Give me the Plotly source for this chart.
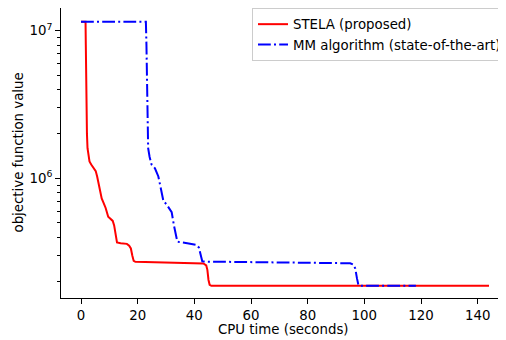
import plotly.graph_objects as go

# STELA (proposed)
t_stela = [0, 1.6, 1.7, 1.8, 1.9, 2.1, 2.3, 2.6, 3.0, 3.6, 4.5, 5.2, 5.7, 6.1, 6.7, 7.3, 8.0, 8.7,
           9.6, 10.5, 11.2, 11.7, 12.0, 12.3, 12.7, 14.0, 16.2, 17.0, 17.6, 18.1, 18.6, 19.2,
           30.0, 40.0, 43.2, 44.2, 44.6, 45.0, 45.4, 46.0, 144.0]
v_stela = [1.15e7, 1.15e7, 8.0e6, 4.5e6, 3.0e6, 2.0e6, 1.6e6, 1.4e6, 1.3e6, 1.24e6, 1.18e6, 1.12e6,
           1.03e6, 9.3e5, 8.2e5, 7.3e5, 6.8e5, 6.3e5, 5.5e5, 5.3e5, 5.15e5, 4.8e5, 4.4e5, 3.9e5,
           3.68e5, 3.64e5, 3.6e5, 3.5e5, 3.35e5, 3.0e5, 2.76e5, 2.72e5,
           2.70e5, 2.68e5, 2.65e5, 2.57e5, 2.4e5, 2.05e5, 1.9e5, 1.87e5, 1.87e5]

# MM algorithm (state-of-the-art)
t_mm = [0, 22.9, 23.1, 23.2, 23.3, 23.4, 23.7, 24.2, 24.9, 26.1, 27.3, 28.2, 29.1, 30.1, 30.8,
        32.0, 32.8, 33.5, 34.0, 38.0, 40.8, 41.6, 42.0, 42.4, 42.8, 43.5, 60.0, 80.0, 95.0,
        96.2, 96.8, 97.4, 97.9, 98.5, 118.2]
v_mm = [1.15e7, 1.15e7, 8.0e6, 5.0e6, 3.0e6, 2.0e6, 1.6e6, 1.4e6, 1.24e6, 1.17e6, 1.03e6, 8.5e5,
        7.0e5, 6.7e5, 6.4e5, 5.9e5, 4.8e5, 4.0e5, 3.72e5, 3.62e5, 3.54e5, 3.4e5, 3.2e5, 2.9e5,
        2.74e5, 2.73e5, 2.71e5, 2.69e5, 2.66e5, 2.6e5, 2.45e5, 2.1e5, 1.9e5, 1.87e5, 1.87e5]

x_ticks = [0, 20, 40, 60, 80, 100, 120, 140]
y_ticks = [1e6, 1e7]
y_ticktext = ["10<sup>6</sup>", "10<sup>7</sup>"]
y_minor = [m * 10 ** e for e in (5, 6) for m in range(2, 10)]

FONT = "DejaVu Sans"
FS = 13.33
OFF = 8  # default page body margin in the browser
W, H = 506 - OFF, 340 - OFF
L, R, T, B = 61 - OFF, 0, 8 - OFF, 42
PW, PH = W - L - R, H - T - B

fig = go.Figure()
fig.add_trace(go.Scatter(x=t_stela, y=v_stela, mode="lines", name="STELA (proposed)",
                         line=dict(color="red", width=2)))
fig.add_trace(go.Scatter(x=t_mm, y=v_mm, mode="lines", name="MM algorithm (state-of-the-art)",
                         line=dict(color="blue", width=2, dash="12.8px,3.2px,2px,3.2px")))

fig.update_layout(
    width=W, height=H,
    margin=dict(l=L, r=R, t=T, b=B, autoexpand=False),
    paper_bgcolor="white", plot_bgcolor="white",
    font=dict(family=FONT, size=FS, color="black"),
    showlegend=True,
    legend=dict(x=(252 - OFF - L) / PW, xanchor="left", y=1, yanchor="top",
                bgcolor="rgba(255,255,255,0.8)", bordercolor="#cccccc", borderwidth=1,
                font=dict(family=FONT, size=FS, color="black"),
                tracegroupgap=0, itemwidth=30),
    xaxis=dict(range=[-7.06, 150.0], tickvals=x_ticks, showgrid=False, zeroline=False,
               automargin=False,
               showline=True, linecolor="black", linewidth=1, mirror=True,
               ticks="outside", ticklen=5, tickwidth=1, tickcolor="black"),
    yaxis=dict(type="log", range=[5.1896, 7.1537], tickvals=y_ticks, ticktext=y_ticktext,
               automargin=False,
               showgrid=False, zeroline=False, showline=True, linecolor="black", linewidth=1,
               ticks="outside", ticklen=5, tickwidth=1, tickcolor="black",
               minor=dict(tickvals=y_minor, ticks="outside", ticklen=3, tickwidth=0.8,
                          tickcolor="black", showgrid=False)),
    annotations=[
        dict(text="CPU time (seconds)", xref="paper", yref="paper",
             x=(283.5 - OFF - L) / PW, y=-(329 - OFF - (T + PH)) / PH,
             xanchor="center", yanchor="middle",
             showarrow=False, font=dict(family=FONT, size=FS, color="black")),
        dict(text="objective function value", xref="paper", yref="paper",
             x=-(L - (17.5 - OFF)) / PW, y=0.5, xanchor="center", yanchor="middle",
             textangle=-90,
             showarrow=False, font=dict(family=FONT, size=FS, color="black")),
    ],
)

fig.write_html("out.html")
